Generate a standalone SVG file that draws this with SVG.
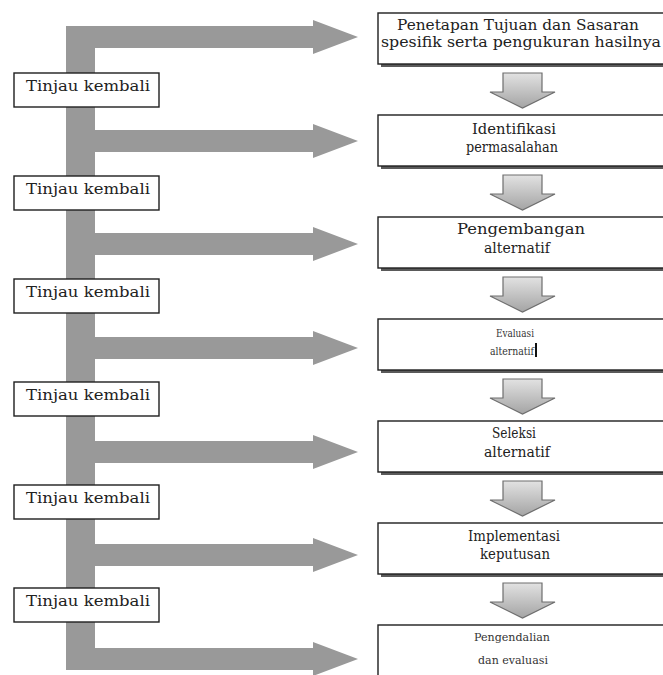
<svg xmlns="http://www.w3.org/2000/svg" width="663" height="675" viewBox="0 0 663 675">
  <defs>
    <linearGradient id="downFill" x1="0" y1="0" x2="0" y2="1">
      <stop offset="0" stop-color="#e2e2e2"/>
      <stop offset="1" stop-color="#a4a4a4"/>
    </linearGradient>
    <symbol id="downArrow" overflow="visible">
      <polygon points="503,0 542,0 542,19 555,19 522.5,35 490,19 503,19" fill="url(#downFill)" stroke="#6e6e6e" stroke-width="1.2"/>
    </symbol>
  </defs>
  <style>
    .bg { fill: #ffffff; }
    .bar { fill: #999999; }
    .box { fill: #ffffff; stroke: #1e1e1e; stroke-width: 1.4; }
    .shadow { fill: #5a5a5a; }
    .review { fill: #ffffff; stroke: #1e1e1e; stroke-width: 1.4; }
    text { font-family: "DejaVu Serif", "Liberation Serif", serif; fill: #222222; }
    .t { font-size: 14px; text-anchor: middle; }
    .s { font-size: 11px; text-anchor: middle; fill: #333333; }
    .r { font-size: 14.5px; }
  </style>

  <rect class="bg" x="0" y="0" width="663" height="675"/>

  <!-- feedback spine with arrows into each step -->
  <g id="connectors">
    <rect class="bar" x="66" y="26" width="29" height="644"/>
    <polygon class="bar" points="66,26 313,26 313,20 358,37 313,54 313,48 66,48"/>
    <polygon class="bar" points="66,130 313,130 313,124 358,141 313,158 313,152 66,152"/>
    <polygon class="bar" points="66,233 313,233 313,227 358,244 313,261 313,255 66,255"/>
    <polygon class="bar" points="66,337 313,337 313,331 358,348 313,365 313,359 66,359"/>
    <polygon class="bar" points="66,441 313,441 313,435 358,452 313,469 313,463 66,463"/>
    <polygon class="bar" points="66,544 313,544 313,538 358,555 313,572 313,566 66,566"/>
    <polygon class="bar" points="66,648 313,648 313,642 358,659 313,676 313,670 66,670"/>

    <!-- downward flow between steps -->
    <use href="#downArrow" x="0" y="73"/>
    <use href="#downArrow" x="0" y="175"/>
    <use href="#downArrow" x="0" y="277"/>
    <use href="#downArrow" x="0" y="379"/>
    <use href="#downArrow" x="0" y="481"/>
    <use href="#downArrow" x="0" y="583"/>
  </g>

  <!-- process steps -->
  <g id="step1">
    <rect class="shadow" x="381" y="16" width="300" height="51"/>
    <rect class="box" x="378" y="13" width="300" height="51"/>
    <text class="t" x="518" y="30" textLength="242" lengthAdjust="spacingAndGlyphs">Penetapan Tujuan dan Sasaran</text>
    <text class="t" x="521" y="47" textLength="280" lengthAdjust="spacingAndGlyphs">spesifik serta pengukuran hasilnya</text>
  </g>
  <g id="step2">
    <rect class="shadow" x="381" y="118" width="300" height="51"/>
    <rect class="box" x="378" y="115" width="300" height="51"/>
    <text class="t" x="514" y="134" textLength="84" lengthAdjust="spacingAndGlyphs">Identifikasi</text>
    <text class="t" x="512" y="152" textLength="92" lengthAdjust="spacingAndGlyphs">permasalahan</text>
  </g>
  <g id="step3">
    <rect class="shadow" x="381" y="220" width="300" height="51"/>
    <rect class="box" x="378" y="217" width="300" height="51"/>
    <text class="t" x="521" y="234" textLength="128" lengthAdjust="spacingAndGlyphs">Pengembangan</text>
    <text class="t" x="517" y="253" textLength="66" lengthAdjust="spacingAndGlyphs">alternatif</text>
  </g>
  <g id="step4">
    <rect class="shadow" x="381" y="322" width="300" height="51"/>
    <rect class="box" x="378" y="319" width="300" height="51"/>
    <text class="s" x="515" y="337" textLength="38" lengthAdjust="spacingAndGlyphs">Evaluasi</text>
    <text class="s" x="512" y="355" textLength="44" lengthAdjust="spacingAndGlyphs">alternatif</text>
    <rect x="535" y="343" width="2" height="14" fill="#111111"/>
  </g>
  <g id="step5">
    <rect class="shadow" x="381" y="424" width="300" height="51"/>
    <rect class="box" x="378" y="421" width="300" height="51"/>
    <text class="t" x="514" y="438" textLength="44" lengthAdjust="spacingAndGlyphs">Seleksi</text>
    <text class="t" x="517" y="457" textLength="66" lengthAdjust="spacingAndGlyphs">alternatif</text>
  </g>
  <g id="step6">
    <rect class="shadow" x="381" y="526" width="300" height="51"/>
    <rect class="box" x="378" y="523" width="300" height="51"/>
    <text class="t" x="514" y="541" textLength="92" lengthAdjust="spacingAndGlyphs">Implementasi</text>
    <text class="t" x="515" y="559" textLength="70" lengthAdjust="spacingAndGlyphs">keputusan</text>
  </g>
  <g id="step7">
    <rect class="shadow" x="381" y="628" width="300" height="51"/>
    <rect class="box" x="378" y="625" width="300" height="51"/>
    <text class="s" x="512" y="641" textLength="76" lengthAdjust="spacingAndGlyphs">Pengendalian</text>
    <text class="s" x="513" y="664" textLength="70" lengthAdjust="spacingAndGlyphs">dan evaluasi</text>
  </g>

  <!-- review labels on the spine -->
  <g id="review1">
    <rect class="review" x="14" y="73" width="145" height="34"/>
    <text class="r" x="26" y="91" textLength="124" lengthAdjust="spacingAndGlyphs">Tinjau kembali</text>
  </g>
  <g id="review2">
    <rect class="review" x="14" y="176" width="145" height="34"/>
    <text class="r" x="26" y="194" textLength="124" lengthAdjust="spacingAndGlyphs">Tinjau kembali</text>
  </g>
  <g id="review3">
    <rect class="review" x="14" y="279" width="145" height="34"/>
    <text class="r" x="26" y="297" textLength="124" lengthAdjust="spacingAndGlyphs">Tinjau kembali</text>
  </g>
  <g id="review4">
    <rect class="review" x="14" y="382" width="145" height="34"/>
    <text class="r" x="26" y="400" textLength="124" lengthAdjust="spacingAndGlyphs">Tinjau kembali</text>
  </g>
  <g id="review5">
    <rect class="review" x="14" y="485" width="145" height="34"/>
    <text class="r" x="26" y="503" textLength="124" lengthAdjust="spacingAndGlyphs">Tinjau kembali</text>
  </g>
  <g id="review6">
    <rect class="review" x="14" y="588" width="145" height="34"/>
    <text class="r" x="26" y="606" textLength="124" lengthAdjust="spacingAndGlyphs">Tinjau kembali</text>
  </g>
</svg>
